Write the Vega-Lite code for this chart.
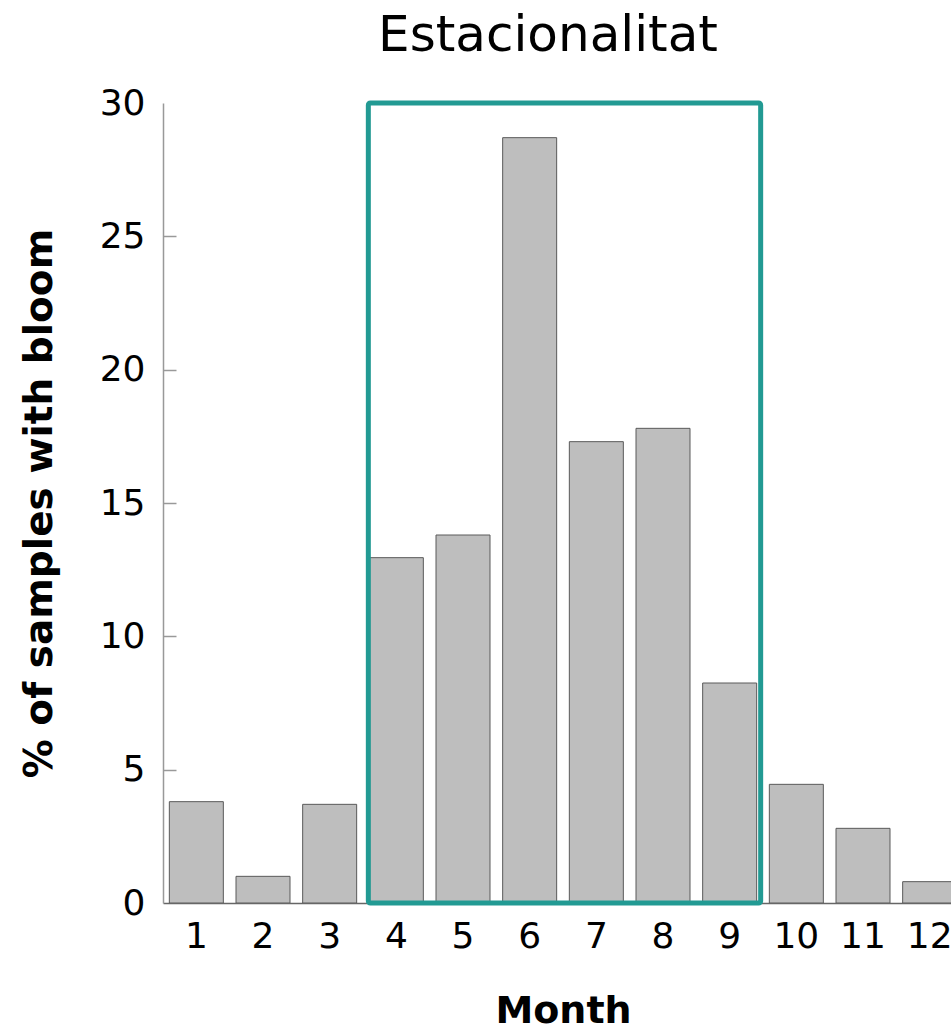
{
  "$schema": "https://vega.github.io/schema/vega-lite/v6.json",
  "autosize": {"type": "none"},
  "padding": {"left": 163, "top": 103, "right": 0, "bottom": 133},
  "width": 788,
  "height": 800,
  "background": "white",
  "config": {"view": {"stroke": null}},
  "title": {
    "text": "Estacionalitat",
    "font": "DejaVu Sans",
    "fontSize": 50,
    "fontWeight": "normal",
    "color": "#000000",
    "anchor": "middle",
    "dx": -9,
    "offset": 24
  },
  "datasets": {
    "bars": [
      {"month": 1, "pct": 3.8},
      {"month": 2, "pct": 1.0},
      {"month": 3, "pct": 3.7},
      {"month": 4, "pct": 12.95},
      {"month": 5, "pct": 13.8},
      {"month": 6, "pct": 28.7},
      {"month": 7, "pct": 17.3},
      {"month": 8, "pct": 17.8},
      {"month": 9, "pct": 8.25},
      {"month": 10, "pct": 4.45},
      {"month": 11, "pct": 2.8},
      {"month": 12, "pct": 0.8}
    ],
    "season": [
      {"from": 4, "to": 9, "lo": 0, "hi": 30}
    ]
  },
  "resolve": {"axis": {"y": "independent"}},
  "layer": [
    {
      "data": {"name": "bars"},
      "mark": {"type": "bar", "fill": "#bebebe", "stroke": "#5a5a5a", "strokeWidth": 1, "clip": true},
      "encoding": {
        "x": {
          "field": "month",
          "type": "ordinal",
          "scale": {"range": [0, 800], "paddingInner": 0.19, "paddingOuter": 0.095},
          "axis": {
            "domainColor": "#666666",
            "domainWidth": 1.5,
            "ticks": false,
            "labelAngle": 0,
            "labelFont": "DejaVu Sans",
            "labelFontSize": 36,
            "labelColor": "#000000",
            "labelPadding": 16,
            "title": "Month",
            "titleFont": "DejaVu Sans",
            "titleFontSize": 38,
            "titleFontWeight": "bold",
            "titleColor": "#000000",
            "titlePadding": 38
          }
        },
        "y": {
          "field": "pct",
          "type": "quantitative",
          "scale": {"domain": [0, 30], "nice": false},
          "axis": {
            "values": [0, 5, 10, 15, 20, 25, 30],
            "grid": false,
            "domainColor": "#999999",
            "domainWidth": 1.5,
            "ticks": false,
            "labelFont": "DejaVu Sans",
            "labelFontSize": 36,
            "labelColor": "#000000",
            "labelPadding": 18,
            "title": "% of samples with bloom",
            "titleFont": "DejaVu Sans",
            "titleFontSize": 39,
            "titleFontWeight": "bold",
            "titleColor": "#000000",
            "titlePadding": 40
          }
        }
      }
    },
    {
      "mark": {"type": "rule", "color": "#888888", "strokeWidth": 1.5},
      "encoding": {
        "y": {
          "datum": 30,
          "type": "quantitative",
          "axis": {
            "orient": "left",
            "values": [5, 10, 15, 20, 25],
            "offset": -13,
            "domain": false,
            "labels": false,
            "grid": false,
            "title": null,
            "tickColor": "#999999",
            "tickWidth": 1.5,
            "tickSize": 13
          }
        }
      }
    },
    {
      "data": {"name": "season"},
      "mark": {"type": "rect", "fill": null, "fillOpacity": 0, "stroke": "#229a93", "strokeWidth": 5, "xOffset": -1, "x2Offset": 4, "cornerRadius": 2},
      "encoding": {
        "x": {"field": "from", "type": "ordinal", "bandPosition": 0},
        "x2": {"field": "to", "bandPosition": 1},
        "y": {"field": "lo", "type": "quantitative", "axis": null},
        "y2": {"field": "hi"}
      }
    }
  ]
}
